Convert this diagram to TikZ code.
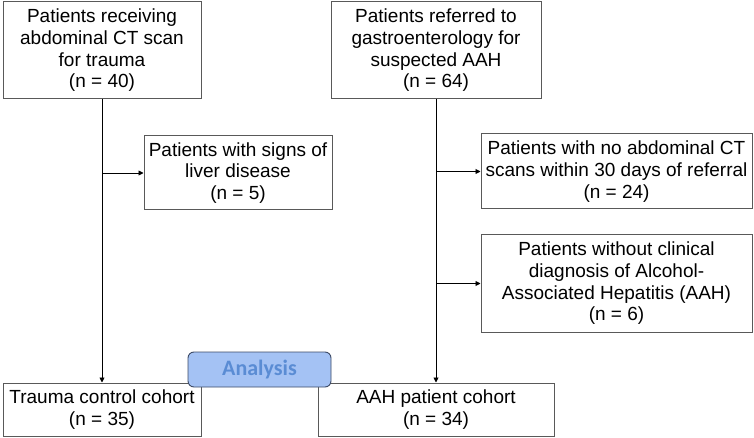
\documentclass[tikz,border=0pt]{standalone}
\usepackage{fontspec}
\setmainfont{Liberation Sans}
\newfontfamily\carlito{Carlito}
\usepackage{tikz}
\usetikzlibrary{arrows.meta,shapes,positioning}
\definecolor{tagfill}{HTML}{A4C2F4}
\definecolor{tagtext}{HTML}{5A8CD4}
\definecolor{tagdraw}{HTML}{3C4A66}

\begin{document}
\begin{tikzpicture}
 [x=1pt,y=-1pt,
 term/.style={
  rectangle,
  draw=black!65,
  line width=1pt,
  inner sep=0pt,
  align=center,
  font=\fontsize{19}{21.7}\selectfont},
 tag/.style={
  rectangle,
  rounded corners=6pt,
  draw=tagdraw,
  line width=0.9pt,
  fill=tagfill,
  text=tagtext,
  minimum width=143pt,
  minimum height=35pt,
  font=\carlito\bfseries\fontsize{22}{24}\selectfont},
 tip/.style={-{Triangle[length=5pt,width=5pt]},line width=0.9pt}]
\useasboundingbox (0,0) rectangle (754,438);
\node (trauma) [term, minimum width=198pt, minimum height=97pt] at (102,50.5) {Patients receiving\\abdominal CT scan\\for trauma\\(n = 40)};
\node (referred) [term, minimum width=210pt, minimum height=97pt] at (436,50.5) {Patients referred to\\gastroenterology for\\suspected AAH\\(n = 64)};
\node (liver) [term, minimum width=188pt, minimum height=74pt] at (238,173) {Patients with signs of\\liver disease\\(n = 5)};
\node (noct) [term, minimum width=271pt, minimum height=75pt] at (616.5,171.5) {Patients with no abdominal CT\\scans within 30 days of referral\\(n = 24)};
\node (nodiag) [term, minimum width=271pt, minimum height=97pt] at (616.5,283.5) {Patients without clinical\\diagnosis of Alcohol-\\Associated Hepatitis (AAH)\\(n = 6)};
\node (control) [term, minimum width=198pt, minimum height=53pt, below=283pt of trauma] {Trauma control cohort\\(n = 35)};
\node (cohort) [term, minimum width=236pt, minimum height=53pt, below=283pt of referred] {AAH patient cohort\\(n = 34)};
\draw[tip] (trauma) -- (control);
\draw[tip] (trauma.south |- liver.west) -- (liver.west);
\draw[tip] (referred) -- (cohort);
\draw[tip] (referred.south |- noct.west) -- (noct.west);
\draw[tip] (referred.south |- nodiag.west) -- (nodiag.west);
% label over the two cohorts
\node (analysis) [tag] at (259.5,369.5) {Analysis};
\end{tikzpicture}
\end{document}
